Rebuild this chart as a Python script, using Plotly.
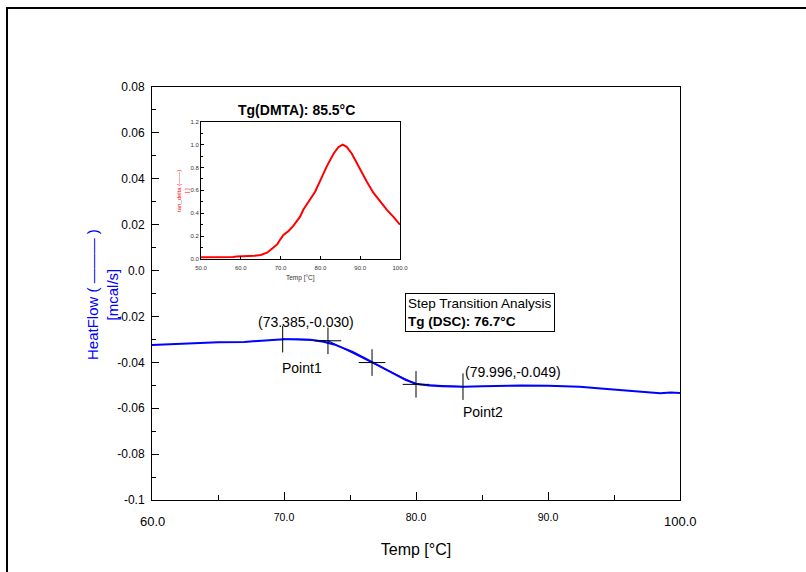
import plotly.graph_objects as go

# ---- main DSC curve (HeatFlow vs Temp) ----
temp = [60.0, 61.5, 63.0, 65.0, 67.0, 68.5, 70.0, 71.0, 72.0, 73.0, 73.8, 74.5, 75.2, 76.0,
        76.7, 77.5, 78.4, 79.2, 80.0, 81.0, 82.0, 83.6, 85.0, 86.5, 88.0, 90.0, 92.4, 94.0,
        95.5, 97.0, 98.5, 99.3, 100.0]
heatflow = [-0.0324, -0.0321, -0.0315, -0.0313, -0.0311, -0.0305, -0.0299, -0.0299, -0.0302,
            -0.0310, -0.0322, -0.0338, -0.0355, -0.0378, -0.0400, -0.0425, -0.0452, -0.0476,
            -0.0493, -0.0501, -0.0504, -0.0506, -0.0504, -0.0501, -0.0501, -0.0502, -0.0506,
            -0.0514, -0.0520, -0.0528, -0.0535, -0.0532, -0.0534]

# step-transition analysis markers
point_x = [69.9, 83.56]
point_y = [-0.0299, -0.0506]
cross_x = [73.33, 76.67, 80.0]
cross_y = [-0.0306, -0.0401, -0.0496]
# analysis construction lines
base1_x = [69.9, 73.33]
base1_y = [-0.0299, -0.0306]
tangent_x = [73.33, 80.0]
tangent_y = [-0.0306, -0.0496]
base2_x = [80.0, 83.56]
base2_y = [-0.0496, -0.0506]

# ---- inset DMTA curve (tan_delta vs Temp) ----
temp_dmta = [50, 55, 58, 59, 60, 62, 63.5, 65, 66.6, 68.2, 69.2, 69.9, 70.7, 72, 73.2, 74.9,
             75.7, 77.4, 78.7, 79.9, 81.6, 83.3, 84.5, 85.6, 86.6, 87.9, 90, 91.6, 93.3, 95,
             96.7, 98.3, 100]
tan_delta = [0.015, 0.015, 0.018, 0.022, 0.023, 0.024, 0.028, 0.035, 0.055, 0.10, 0.13, 0.17,
             0.21, 0.245, 0.29, 0.37, 0.43, 0.52, 0.59, 0.68, 0.81, 0.92, 0.977, 1.0, 0.98,
             0.92, 0.78, 0.68, 0.58, 0.50, 0.43, 0.37, 0.30]

# tick labels
y_tickvals = [0.08, 0.06, 0.04, 0.02, 0.0, -0.02, -0.04, -0.06, -0.08, -0.1]
y_ticktext = ["0.08", "0.06", "0.04", "0.02", "0.0", "-0.02", "-0.04", "-0.06", "-0.08", "-0.1"]
x_tickvals = [70, 80, 90]
x_ticktext = ["70.0", "80.0", "90.0"]
x_end_vals = [60, 100]
x_end_text = ["60.0", "100.0"]

FONT = "Liberation Sans, Arial, sans-serif"
BLUE = "#0000ff"
RED = "#ff0000"

fig = go.Figure()

fig.add_trace(go.Scatter(x=base1_x, y=base1_y, mode="lines", line=dict(color=BLUE, width=1.2)))
fig.add_trace(go.Scatter(x=tangent_x, y=tangent_y, mode="lines", line=dict(color=BLUE, width=1.2)))
fig.add_trace(go.Scatter(x=base2_x, y=base2_y, mode="lines", line=dict(color=BLUE, width=1.2)))
fig.add_trace(go.Scatter(x=temp, y=heatflow, mode="lines", line=dict(color=BLUE, width=2)))
fig.add_trace(go.Scatter(x=cross_x, y=cross_y, mode="markers",
                         marker=dict(symbol="cross-thin", size=19, line=dict(color="black", width=1))))
fig.add_trace(go.Scatter(x=point_x, y=point_y, mode="markers",
                         marker=dict(symbol="line-ns", size=19, line=dict(color="black", width=1))))

fig.add_trace(go.Scatter(x=temp_dmta, y=tan_delta, mode="lines", xaxis="x2", yaxis="y2",
                         line=dict(color=RED, width=2)))

fig.update_layout(
    width=806, height=572,
    margin=dict(l=152, r=126, t=87, b=72),
    paper_bgcolor="white", plot_bgcolor="white",
    showlegend=False,
    font=dict(family=FONT, color="black"),
    xaxis=dict(range=[60, 100], showgrid=False, zeroline=False, showline=True, mirror=True,
               linecolor="black", linewidth=1, ticks="inside", ticklen=8, tickcolor="black",
               tickvals=x_tickvals, ticktext=x_ticktext, tickfont=dict(size=10.5),
               ticklabelstandoff=7,
               minor=dict(ticks="inside", ticklen=5, dtick=5, tick0=60, tickcolor="black"),
               title=dict(text="Temp [°C]", font=dict(size=16), standoff=22)),
    yaxis=dict(range=[-0.1, 0.08], showgrid=False, zeroline=False, showline=True, mirror=True,
               linecolor="black", linewidth=1, ticks="inside", ticklen=7, tickcolor="black",
               tickvals=y_tickvals, ticktext=y_ticktext, tickfont=dict(size=12),
               ticklabelstandoff=4,
               minor=dict(ticks="inside", ticklen=4, dtick=0.01, tick0=0, tickcolor="black")),
    xaxis2=dict(domain=[0.0928, 0.4697], anchor="y2", range=[50, 100], showgrid=False,
                zeroline=False, showline=True, mirror=True, linecolor="black", linewidth=1,
                ticks="inside", ticklen=3, tickcolor="black", dtick=10, tick0=50,
                tickformat=".1f", tickfont=dict(size=6, color="#333333"), ticklabelstandoff=3),
    yaxis2=dict(domain=[0.5835, 0.916], anchor="x2", range=[0, 1.2], showgrid=False,
                zeroline=False, showline=True, mirror=True, linecolor="black", linewidth=1,
                ticks="inside", ticklen=3, tickcolor="black", dtick=0.2, tick0=0,
                tickformat=".1f", tickfont=dict(size=6, color="#333333"),
                minor=dict(ticks="inside", ticklen=2, dtick=0.1, tickcolor="black")),
)

# outer frame
fig.add_shape(type="rect", xref="paper", yref="paper", x0=-0.2746, x1=2.0, y0=-1.0, y1=1.1913,
              line=dict(color="black", width=2), fillcolor="rgba(0,0,0,0)", layer="below")


def px(x):
    return (x - 152) / 528


def py(y):
    return (500 - y) / 413


ann = []
# y-axis title (rotated, two lines)
ann.append(dict(x=px(102), y=py(295), text="HeatFlow ( ——— )<br>[mcal/s]", textangle=-90,
                font=dict(size=15, color=BLUE)))
ann.append(dict(x=px(306), y=py(321.5), text="(73.385,-0.030)", font=dict(size=14)))
ann.append(dict(x=px(302), y=py(367.5), text="Point1", font=dict(size=14)))
ann.append(dict(x=px(512.5), y=py(371.5), text="(79.996,-0.049)", font=dict(size=14)))
ann.append(dict(x=px(483), y=py(412), text="Point2", font=dict(size=14)))
ann.append(dict(x=px(479.5), y=py(312), text="Step Transition Analysis<br><b>Tg (DSC): 76.7°C</b>",
                align="left", font=dict(size=13.5), bordercolor="black", borderwidth=1,
                borderpad=2, bgcolor="white"))
# inset texts
ann.append(dict(x=px(296), y=py(110), text="<b>Tg(DMTA): 85.5°C</b>", font=dict(size=14)))
ann.append(dict(x=px(183), y=py(191), text="tan_delta (——)<br>[ ]", textangle=-90,
                font=dict(size=6, color=RED)))
ann.append(dict(x=px(300), y=py(278), text="Temp [°C]", font=dict(size=6.5, color="#333333")))
for a in ann:
    a.update(xref="paper", yref="paper", showarrow=False, xanchor="center", yanchor="middle")
# end tick labels of the main x axis (drawn larger in the original)
for v, t in zip(x_end_vals, x_end_text):
    ann.append(dict(x=v, y=py(521), xref="x", yref="paper", text=t, showarrow=False,
                    xanchor="center", yanchor="middle", font=dict(size=13)))
fig.update_layout(annotations=ann)

fig.write_html("out.html")
